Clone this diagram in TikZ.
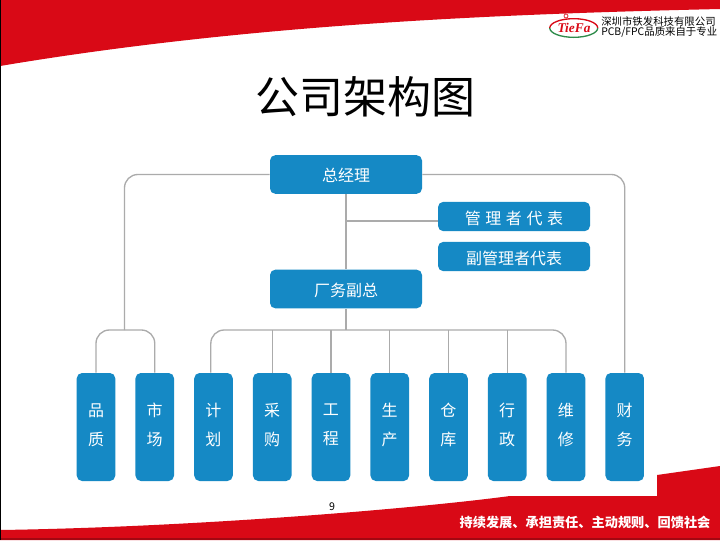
\documentclass[tikz,border=0pt]{standalone}
\usepackage{fontspec}
\setmainfont{Noto Sans CJK SC}
\newfontfamily\logofont{Liberation Serif}
\usetikzlibrary{positioning,shapes.geometric}
\definecolor{boxblue}{HTML}{1589C5}
\definecolor{linegray}{HTML}{ABABAB}
\definecolor{bandred}{HTML}{D90916}
\definecolor{logogreen}{HTML}{2E8B4A}
\newcommand{\gapp}{\hspace{3.4pt}}
\tikzstyle{topbox} = [rectangle, fill=boxblue, text=white, rounded corners=4pt,
    minimum width=114pt, minimum height=29pt, font=\fontsize{12pt}{14pt}\selectfont,
    inner sep=0pt, text height=10pt, text depth=0pt]
\tikzstyle{repbox} = [topbox, minimum height=22pt, text height=11.4pt]
\tikzstyle{dept} = [rectangle, fill=boxblue, text=white, rounded corners=4pt,
    minimum width=28.9pt, minimum height=81pt, align=center, inner sep=0pt,
    text depth=4pt, font=\fontsize{12pt}{21.8pt}\selectfont]
\tikzstyle{wire} = [draw=linegray, line width=1pt]
\begin{document}
\begin{tikzpicture}[x=0.75pt, y=-0.75pt, node distance=44.06pt]
  \useasboundingbox (0,0) rectangle (720,540);
  % Bands
  \fill [white] (0,0) rectangle (720,540);
  \fill [bandred] (0,0) -- (720,0) -- (720,9) .. controls (500,14) and (250,24) .. (0,66) -- cycle;
  \fill [bandred] (0,540) -- (720,540) -- (720,466) -- (657,475) -- (657,496) -- (510,496)
    .. controls (420,508) and (200,527) .. (0,530) -- cycle;
  \fill [bandred!75!black] (0,538) rectangle (720,540);
  \fill [black] (0,0) rectangle (1,540);
  % Title and footer
  \node (title) at (365,97) {\fontsize{33pt}{36pt}\selectfont 公司架构图};
  \node (slogan) [text=white] at (585,522) {\fontsize{9.9pt}{12pt}\selectfont\bfseries 持续发展、承担责任、主动规则、回馈社会};
  \node (pagenum) at (332,507) {\fontsize{8pt}{10pt}\selectfont 9};
  % Logo
  \node (logo) [ellipse, minimum width=36pt, minimum height=14pt, inner sep=0pt,
    text=bandred] at (574,28) {\logofont\itshape\bfseries\fontsize{10pt}{10pt}\selectfont TieFa};
  \draw [bandred, line width=1pt] (logo.west) arc (180:0:18pt and 7pt);
  \draw [logogreen, line width=1pt] (logo.west) arc (180:360:18pt and 7pt);
  \node (dot) [circle, draw=bandred, line width=0.5pt, minimum size=3pt, inner sep=0pt] at (566,16) {};
  \node (company) [anchor=west, align=left, inner sep=0pt,
    font=\fontsize{7.8pt}{7.9pt}\selectfont] at (601,27)
    {深圳市铁发科技有限公司\\PCB/FPC品质来自于专业};
  % Place nodes
  \node [topbox] (gm) at (346,174.5) {总经理};
  \node [topbox, text height=11pt] (vp) at (346,289) {厂务副总};
  \node [repbox] (rep) at (514,216.5) {管\gapp 理\gapp 者\gapp 代\gapp 表};
  \node [repbox] (vrep) at (514,256.5) {副管理者代表};
  \node [dept] (pin) at (96,427) {品\\质};
  \node [dept, right of=pin] (shi) {市\\场};
  \node [dept, right of=shi] (ji) {计\\划};
  \node [dept, right of=ji] (cai) {采\\购};
  \node [dept, right of=cai] (gong) {工\\程};
  \node [dept, right of=gong] (sheng) {生\\产};
  \node [dept, right of=sheng] (cang) {仓\\库};
  \node [dept, right of=cang] (xing) {行\\政};
  \node [dept, right of=xing] (wei) {维\\修};
  \node [dept, right of=wei] (cai2) {财\\务};
  \coordinate (bus) at (346,330);
  \coordinate (joint) at (124.5,330);
  % Draw edges
  \draw [wire] (gm) -- (vp);
  \draw [wire] (vp) -- (bus);
  \draw [wire] ([yshift=-3.4pt]rep.west) -- ([yshift=-3.4pt]rep.west -| gm);
  \draw [wire, rounded corners=10pt] (gm.west) -| (joint);
  \draw [wire, rounded corners=10pt] (gm.east) -| (cai2.north);
  \draw [wire, rounded corners=10pt] (pin.north) |- (joint) -| (shi.north);
  \draw [wire, rounded corners=10pt] ([xshift=-2pt]ji.north) |- (bus) -| (wei.north);
  \draw [wire] (cai.north) -- (cai.north |- bus);
  \draw [wire] (gong.north) -- (gong.north |- bus);
  \draw [wire] (sheng.north) -- (sheng.north |- bus);
  \draw [wire] (cang.north) -- (cang.north |- bus);
  \draw [wire] (xing.north) -- (xing.north |- bus);
\end{tikzpicture}
\end{document}
